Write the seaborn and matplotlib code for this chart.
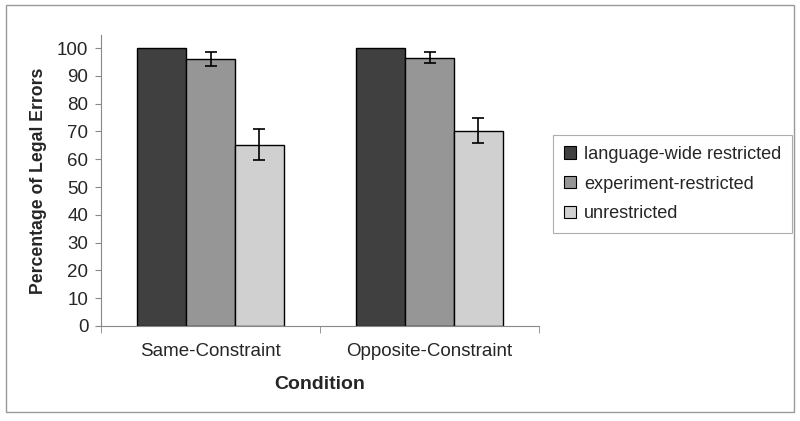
import matplotlib
matplotlib.use("Agg")
import matplotlib.pyplot as plt
import seaborn as sns
import pandas as pd
import numpy as np
from matplotlib.patches import Rectangle

conditions = ["Same-Constraint", "Opposite-Constraint"]
groups = ["language-wide restricted", "experiment-restricted", "unrestricted"]
values_lw = [100.0, 100.0]
values_exp = [96.0, 96.6]
values_unr = [65.3, 70.3]
err_lw = [0.0, 0.0]
err_exp = [2.6, 2.0]
err_unr = [5.6, 4.6]
colors = ["#404040", "#969696", "#d0d0d0"]

rows = []
for g, vals, errs in zip(groups, [values_lw, values_exp, values_unr], [err_lw, err_exp, err_unr]):
    for c, v, e in zip(conditions, vals, errs):
        rows.append({"Condition": c, "Group": g, "Value": v, "Err": e})
df = pd.DataFrame(rows)

sns.set_style("white")
plt.rcParams["font.family"] = ["Liberation Sans", "DejaVu Sans"]

fig = plt.figure(figsize=(8, 4.21), dpi=100)
ax = fig.add_axes([101/800, 1-326/421, (539-101)/800, (326-35)/421])

sns.barplot(data=df, x="Condition", y="Value", hue="Group", order=conditions,
            hue_order=groups, palette=colors, width=0.67, errorbar=None,
            edgecolor="black", linewidth=1.0, saturation=1, ax=ax, legend=True)

for cont, g in zip(ax.containers, groups):
    sub = df[df.Group == g].set_index("Condition").loc[conditions]
    for bar, (v, e) in zip(cont, zip(sub.Value, sub.Err)):
        if e > 0:
            xc = bar.get_x() + bar.get_width() / 2
            ax.errorbar(xc, v, yerr=e, fmt="none", ecolor="black", elinewidth=1.2,
                        capsize=4, capthick=1.2)

ax.set_ylim(0, 104.7)
ax.set_xlim(-0.5, 1.5)
ax.set_yticks(np.arange(0, 101, 10))
ax.tick_params(axis="y", labelsize=13.5, length=4, direction="out", color="#888888", left=True, pad=5)
ax.set_xticks([0, 1])
ax.set_xticklabels(conditions, fontsize=13.5)
ax.set_xticks([-0.5, 0.5, 1.5], minor=True)
ax.tick_params(axis="x", which="major", length=0, pad=12)
ax.tick_params(axis="x", which="minor", length=5, color="#888888", bottom=True)
for s in ["top", "right"]:
    ax.spines[s].set_visible(False)
for s in ["left", "bottom"]:
    ax.spines[s].set_color("#888888")
    ax.spines[s].set_linewidth(0.8)
ax.set_ylabel("Percentage of Legal Errors", fontsize=12.7, fontweight="bold", labelpad=7)
ax.set_xlabel("Condition", fontsize=14, fontweight="bold", labelpad=12)

leg = ax.legend(loc="upper left", bbox_to_anchor=(553/800, 1-135/421), bbox_transform=fig.transFigure,
                frameon=True, fancybox=False, fontsize=13.1, handlelength=0.65, handleheight=0.65,
                handletextpad=0.45, labelspacing=0.7, borderpad=0.6, borderaxespad=0)
leg.get_frame().set_edgecolor("#999999")
leg.get_frame().set_linewidth(0.8)
for h in leg.legend_handles:
    h.set_edgecolor("black")
    h.set_linewidth(0.8)

fig.patches.append(Rectangle((6/800, 1-412/421), 788/800, 407/421, transform=fig.transFigure,
                             fill=False, edgecolor="#999999", linewidth=1.0))

fig.savefig("out.png", dpi=100)
